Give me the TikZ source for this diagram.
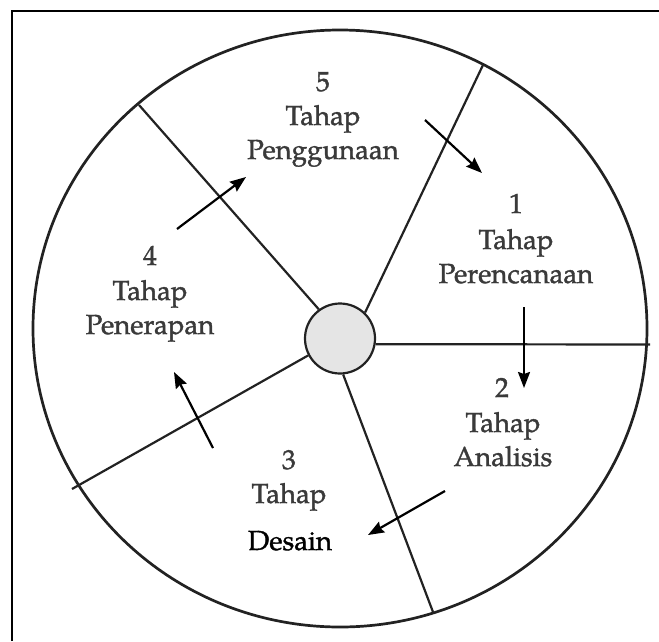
\documentclass[tikz,border=0pt]{standalone}
\usepackage{fontspec}
\setmainfont{TeX Gyre Pagella}
\newfontfamily\lblfont[FakeBold=1.3]{TeX Gyre Pagella}
\usetikzlibrary{arrows.meta}
\definecolor{ink}{HTML}{222222}
\definecolor{txt}{HTML}{3A3A3A}
\begin{document}
\begin{tikzpicture}[x=1pt,y=-1pt,
  lbl/.style={font=\lblfont\fontsize{27.6}{34}\selectfont, text=txt, anchor=base, inner sep=0pt},
  lblk/.style={lbl, text=black},
  ray/.style={draw=ink, line width=2.2pt},
  flow/.style={draw=black, line width=2.2pt, -{Stealth[length=16pt,width=12pt,inset=2pt]}}]
\useasboundingbox (0,0) rectangle (659,641);
% frame
\draw[line width=2.2pt] (12,641) -- (12,11) -- (659,11);
% outer circle
\draw[draw=ink, line width=2.7pt] (340,328.5) ellipse [x radius=307pt, y radius=298.5pt];
% hub
\node[circle, draw=ink, fill=gray!20, line width=2.2pt, minimum size=70pt, inner sep=0pt] (c) at (340,338.5) {};
% ray ends
\coordinate (rUL) at (139,105);
\coordinate (rUR) at (483,65);
\coordinate (rR)  at (650,344.5);
\coordinate (rLL) at (72,489);
\coordinate (rLo) at (433,612);
\draw[ray] (c.126) -- (rUL);
\draw[ray] (c.46) -- (rUR);
\draw[ray] (c.-9) -- (rR);
\draw[ray] (c.208) -- (rLL);
\draw[ray] (c.-85) -- (rLo);
% labels
\node[lbl] (n5)  at (323,91)  {5};
\node[lbl] (t5)  at (323,125) {Tahap};
\node[lbl] (p5)  at (323,159) {Penggunaan};
\node[lbl] (n1)  at (516,213) {1};
\node[lbl] (t1)  at (516,249) {Tahap};
\node[lbl] (p1)  at (516,283) {Perencanaan};
\node[lbl] (n4)  at (150,265) {4};
\node[lbl] (t4)  at (150,300) {Tahap};
\node[lbl] (p4)  at (150,334) {Penerapan};
\node[lbl] (n2)  at (502,397) {2};
\node[lbl] (t2)  at (503,432) {Tahap};
\node[lbl] (p2)  at (503,466) {Analisis};
\node[lbl] (n3)  at (289,469) {3};
\node[lbl] (t3)  at (289,503) {Tahap};
\node[lblk] (p3) at (290,550) {Desain};
% flow arrows
\coordinate (a51s) at (425,120); \coordinate (a51e) at (482,173);
\coordinate (a12s) at (524,307); \coordinate (a12e) at (524,388);
\coordinate (a23s) at (445,491); \coordinate (a23e) at (368,535);
\coordinate (a34s) at (213,448); \coordinate (a34e) at (174,372);
\coordinate (a45s) at (177,229); \coordinate (a45e) at (246,177);
\draw[flow] (a51s) -- (a51e);
\draw[flow] (a12s) -- (a12e);
\draw[flow] (a23s) -- (a23e);
\draw[flow] (a34s) -- (a34e);
\draw[flow] (a45s) -- (a45e);
\end{tikzpicture}
\end{document}
